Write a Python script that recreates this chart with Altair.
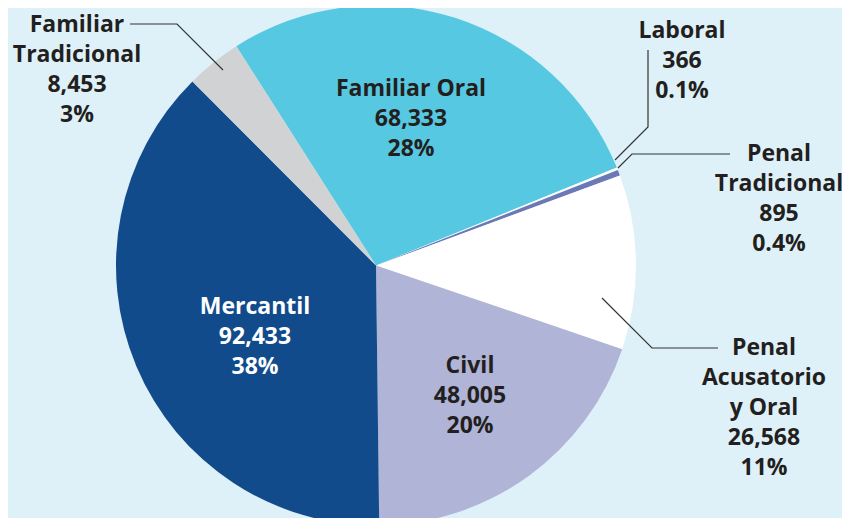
import altair as alt
import pandas as pd
import math

# ---- data ----
categories = ["Familiar Oral", "Laboral", "Penal Tradicional", "Penal Acusatorio y Oral",
              "Civil", "Mercantil", "Familiar Tradicional"]
values = [68333, 366, 895, 26568, 48005, 92433, 8453]
pct_labels = ["28%", "0.1%", "0.4%", "11%", "20%", "38%", "3%"]
value_labels = ["68,333", "366", "895", "26,568", "48,005", "92,433", "8,453"]
name_lines = ["Familiar Oral", "Laboral", "Penal\nTradicional", "Penal\nAcusatorio\ny Oral",
              "Civil", "Mercantil", "Familiar\nTradicional"]

# ---- styles / layout ----
W, H = 834, 510
colors = ["#57C8E1", "#FFFFFF", "#6B7AB7", "#FFFFFF", "#B0B4D6", "#114B8B", "#D1D2D4"]
text_colors = ["#231F20", "#231F20", "#231F20", "#231F20", "#231F20", "#FFFFFF", "#231F20"]
# label first-line centre (chart pixel coords)
label_x = [403, 674, 771, 756, 462, 247, 69]
label_y = [81, 23, 146, 340, 358, 299, 17]
cx, cy, R = 368, 257.5, 260
start = math.radians(-32.5)

leaders = {
    "Familiar Tradicional": [(122, 16), (169, 16), (215, 62)],
    "Laboral": [(640, 42), (640, 119), (607, 152)],
    "Penal Tradicional": [(722, 146), (624, 146), (610, 160)],
    "Penal Acusatorio y Oral": [(594, 290), (644, 340), (710, 340)],
}

pie_df = pd.DataFrame({"cat": categories, "value": values, "idx": list(range(len(values)))})

lab_df = pd.DataFrame({
    "cat": categories,
    "text": [f"{n}\n{v}\n{p}" for n, v, p in zip(name_lines, value_labels, pct_labels)],
    "x": label_x, "y": label_y, "tcolor": text_colors,
})

rows = []
for k, pts in leaders.items():
    for i, (px, py) in enumerate(pts):
        rows.append({"g": k, "i": i, "x": px, "y": py})
lead_df = pd.DataFrame(rows)

xs = alt.Scale(domain=[0, W], range=[0, W], nice=False, zero=False)
ys = alt.Scale(domain=[0, H], range=[0, H], nice=False, zero=False)

pie = alt.Chart(pie_df).mark_arc(outerRadius=R, strokeWidth=0).encode(
    theta=alt.Theta("value:Q", stack=True,
                    scale=alt.Scale(range=[start, start + 2 * math.pi])),
    color=alt.Color("cat:N", scale=alt.Scale(domain=categories, range=colors), legend=None),
    order=alt.Order("idx:Q"),
    x=alt.value(cx), y=alt.value(cy),
)

lines = alt.Chart(lead_df).mark_line(color="#333333", strokeWidth=1.2).encode(
    x=alt.X("x:Q", scale=xs, axis=None),
    y=alt.Y("y:Q", scale=ys, axis=None),
    detail="g:N",
    order="i:Q",
)

labels = alt.Chart(lab_df).mark_text(
    font="Open Sans", fontWeight="bold", fontSize=23, lineBreak="\n", lineHeight=30,
    align="center", baseline="middle",
).encode(
    x=alt.X("x:Q", scale=xs, axis=None),
    y=alt.Y("y:Q", scale=ys, axis=None),
    text="text:N",
    color=alt.Color("tcolor:N", scale=None),
)

chart = alt.layer(pie, lines, labels).resolve_scale(color="independent").properties(
    width=W, height=H, padding=0, autosize=alt.AutoSizeParams(type="none"),
    background="#DFF1F8",
).configure_view(stroke=None)

chart.save("out.html", embed_options={"renderer": "svg", "actions": False})
